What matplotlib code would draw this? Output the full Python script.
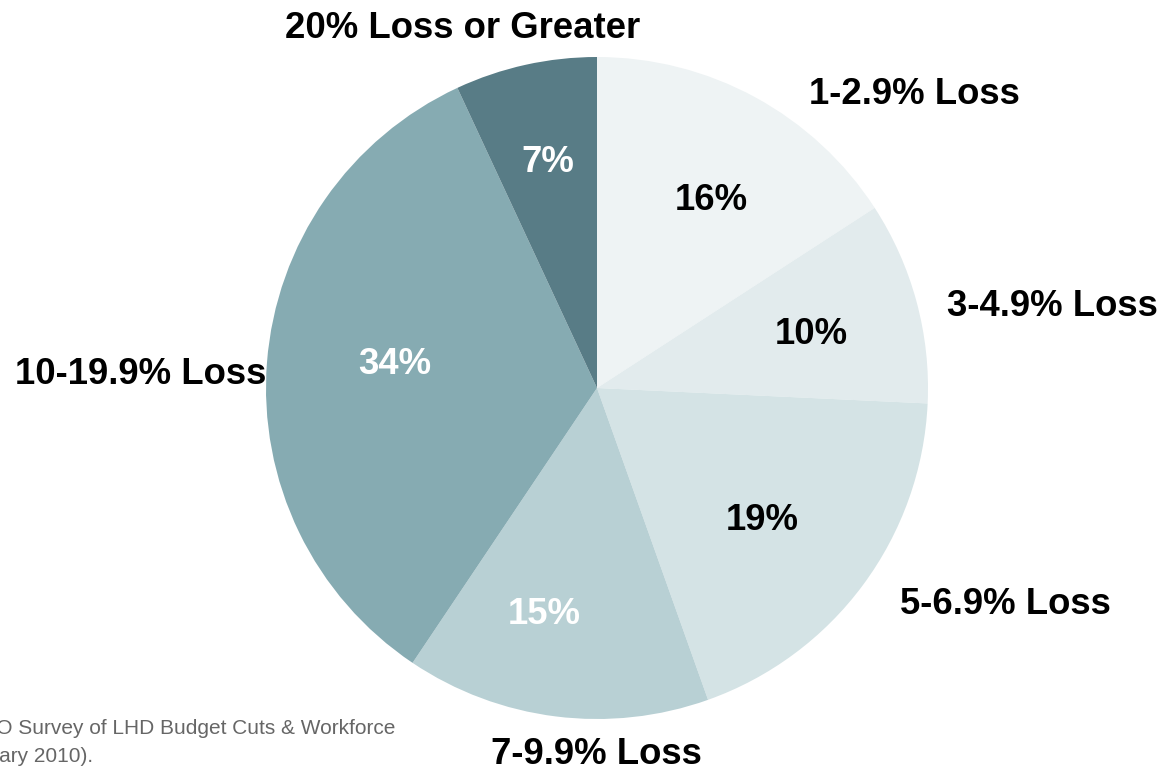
import matplotlib
matplotlib.use("Agg")
import matplotlib.pyplot as plt

categories = ["1-2.9% Loss", "3-4.9% Loss", "5-6.9% Loss", "7-9.9% Loss",
              "10-19.9% Loss", "20% Loss or Greater"]
values = [16, 10, 19, 15, 34, 7]
colors = ["#EEF3F4", "#E2EBED", "#D4E3E5", "#B8D0D4", "#86ABB2", "#587C86"]
pct_colors = ["black", "black", "black", "white", "white", "white"]
footnote_1 = "NACCHO Survey of LHD Budget Cuts & Workforce"
footnote_2 = "Reductions (January 2010)."

W, H = 1163, 770
cx, cy, R = 597, 388, 331

fig = plt.figure(figsize=(W / 100, H / 100), dpi=100)
ax = fig.add_axes([0, 0, 1, 1])

wedges, texts, autotexts = ax.pie(
    values, colors=colors, startangle=90, counterclock=False,
    labels=categories, autopct=lambda p: "", pctdistance=0.66,
    wedgeprops=dict(linewidth=0), radius=1.0, frame=True)
ax.set_xlim((0 - cx) / R, (W - cx) / R)
ax.set_ylim((cy - H) / R, cy / R)
ax.set_aspect("auto")
ax.axis("off")

def px(x, y):
    return ((x - cx) / R, (cy - y) / R)

label_px = [(914, 95), (1052, 307), (1005, 604), (596, 754), (141, 375), (463, 28)]
pct_px = [(711, 201), (811, 334), (762, 520), (544, 614), (395, 365), (548, 162)]

font = "Liberation Sans"
for t, p in zip(texts, label_px):
    t.set_position(px(*p))
    t.set_ha("center"); t.set_va("center")
    t.set_fontsize(26.3); t.set_fontweight("bold"); t.set_family(font)
for t, p, v, c in zip(autotexts, pct_px, values, pct_colors):
    t.set_text(f"{v}%")
    t.set_position(px(*p))
    t.set_ha("center"); t.set_va("center")
    t.set_fontsize(26.3); t.set_fontweight("bold"); t.set_family(font)
    t.set_color(c)

fig.text(395 / W, 1 - 729 / H, footnote_1, ha="right", va="center",
         fontsize=15, color="#666666", family=font)
fig.text(93 / W, 1 - 757 / H, footnote_2, ha="right", va="center",
         fontsize=15, color="#666666", family=font)

fig.savefig("out.png", dpi=100, facecolor="white")
